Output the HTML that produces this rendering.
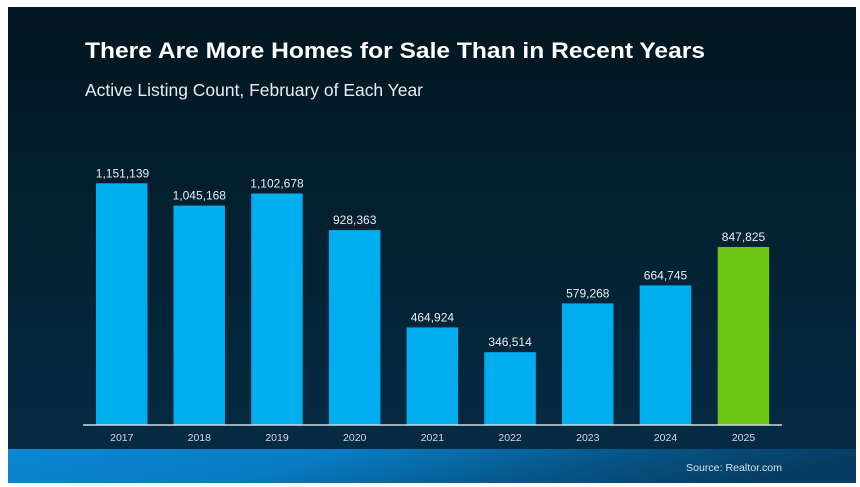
<!DOCTYPE html>
<html>
<head>
<meta charset="utf-8">
<style>
  html, body { margin: 0; padding: 0; background: #ffffff; }
  svg { display: block; }
  text { font-family: "Liberation Sans", Arial, sans-serif; }
</style>
</head>
<body>
<svg width="860" height="487" viewBox="0 0 860 487" xmlns="http://www.w3.org/2000/svg">
  <defs>
    <linearGradient id="bg" x1="0" y1="0" x2="0" y2="1">
      <stop offset="0" stop-color="#021620"/>
      <stop offset="0.45" stop-color="#03202f"/>
      <stop offset="1" stop-color="#052b43"/>
    </linearGradient>
    <linearGradient id="band" x1="0" y1="0" x2="1" y2="0.15">
      <stop offset="0" stop-color="#0b87d2"/>
      <stop offset="0.4" stop-color="#087bc2"/>
      <stop offset="0.72" stop-color="#06578a"/>
      <stop offset="1" stop-color="#073d62"/>
    </linearGradient>
  </defs>

  <rect x="0" y="0" width="860" height="487" fill="#ffffff"/>
  <rect x="8" y="7" width="848" height="442" fill="url(#bg)"/>
  <rect x="8" y="449" width="848" height="34" fill="url(#band)"/>

  <text x="85" y="58" font-size="22" font-weight="bold" fill="#ffffff" textLength="620" lengthAdjust="spacingAndGlyphs">There Are More Homes for Sale Than in Recent Years</text>
  <text x="85" y="96" font-size="17.4" fill="#e9eef2" textLength="338" lengthAdjust="spacingAndGlyphs">Active Listing Count, February of Each Year</text>

  <!-- bars -->
  <g fill="#00aeef">
    <rect x="96" y="183.3" width="51.5" height="241.7"/>
    <rect x="173.5" y="205.6" width="51.5" height="219.4"/>
    <rect x="251.2" y="193.5" width="51.5" height="231.5"/>
    <rect x="328.9" y="230.1" width="51.5" height="194.9"/>
    <rect x="406.6" y="327.4" width="51.5" height="97.6"/>
    <rect x="484.3" y="352.2" width="51.5" height="72.8"/>
    <rect x="562.0" y="303.4" width="51.5" height="121.6"/>
    <rect x="639.7" y="285.4" width="51.5" height="139.6"/>
  </g>
  <rect x="717.7" y="247.0" width="51.5" height="178.0" fill="#6cc514"/>

  <!-- value labels -->
  <g font-size="12" fill="#e8eef2" text-anchor="middle">
    <text x="122.5" y="177.3">1,151,139</text>
    <text x="199.3" y="199.6">1,045,168</text>
    <text x="277.0" y="187.5">1,102,678</text>
    <text x="354.7" y="224.1">928,363</text>
    <text x="432.4" y="321.4">464,924</text>
    <text x="510.1" y="346.2">346,514</text>
    <text x="587.8" y="297.4">579,268</text>
    <text x="665.5" y="279.4">664,745</text>
    <text x="743.5" y="241.0">847,825</text>
  </g>

  <!-- axis line -->
  <line x1="83" y1="425" x2="782" y2="425" stroke="#cfd9e0" stroke-width="1.5"/>

  <!-- year labels -->
  <g font-size="10.5" fill="#d3dbe1" text-anchor="middle">
    <text x="121.8" y="441">2017</text>
    <text x="199.3" y="441">2018</text>
    <text x="277.0" y="441">2019</text>
    <text x="354.7" y="441">2020</text>
    <text x="432.4" y="441">2021</text>
    <text x="510.1" y="441">2022</text>
    <text x="587.8" y="441">2023</text>
    <text x="665.5" y="441">2024</text>
    <text x="743.5" y="441">2025</text>
  </g>

  <text x="686" y="471" font-size="10.5" fill="#d6e2ea" textLength="96" lengthAdjust="spacingAndGlyphs">Source: Realtor.com</text>
</svg>
</body>
</html>
